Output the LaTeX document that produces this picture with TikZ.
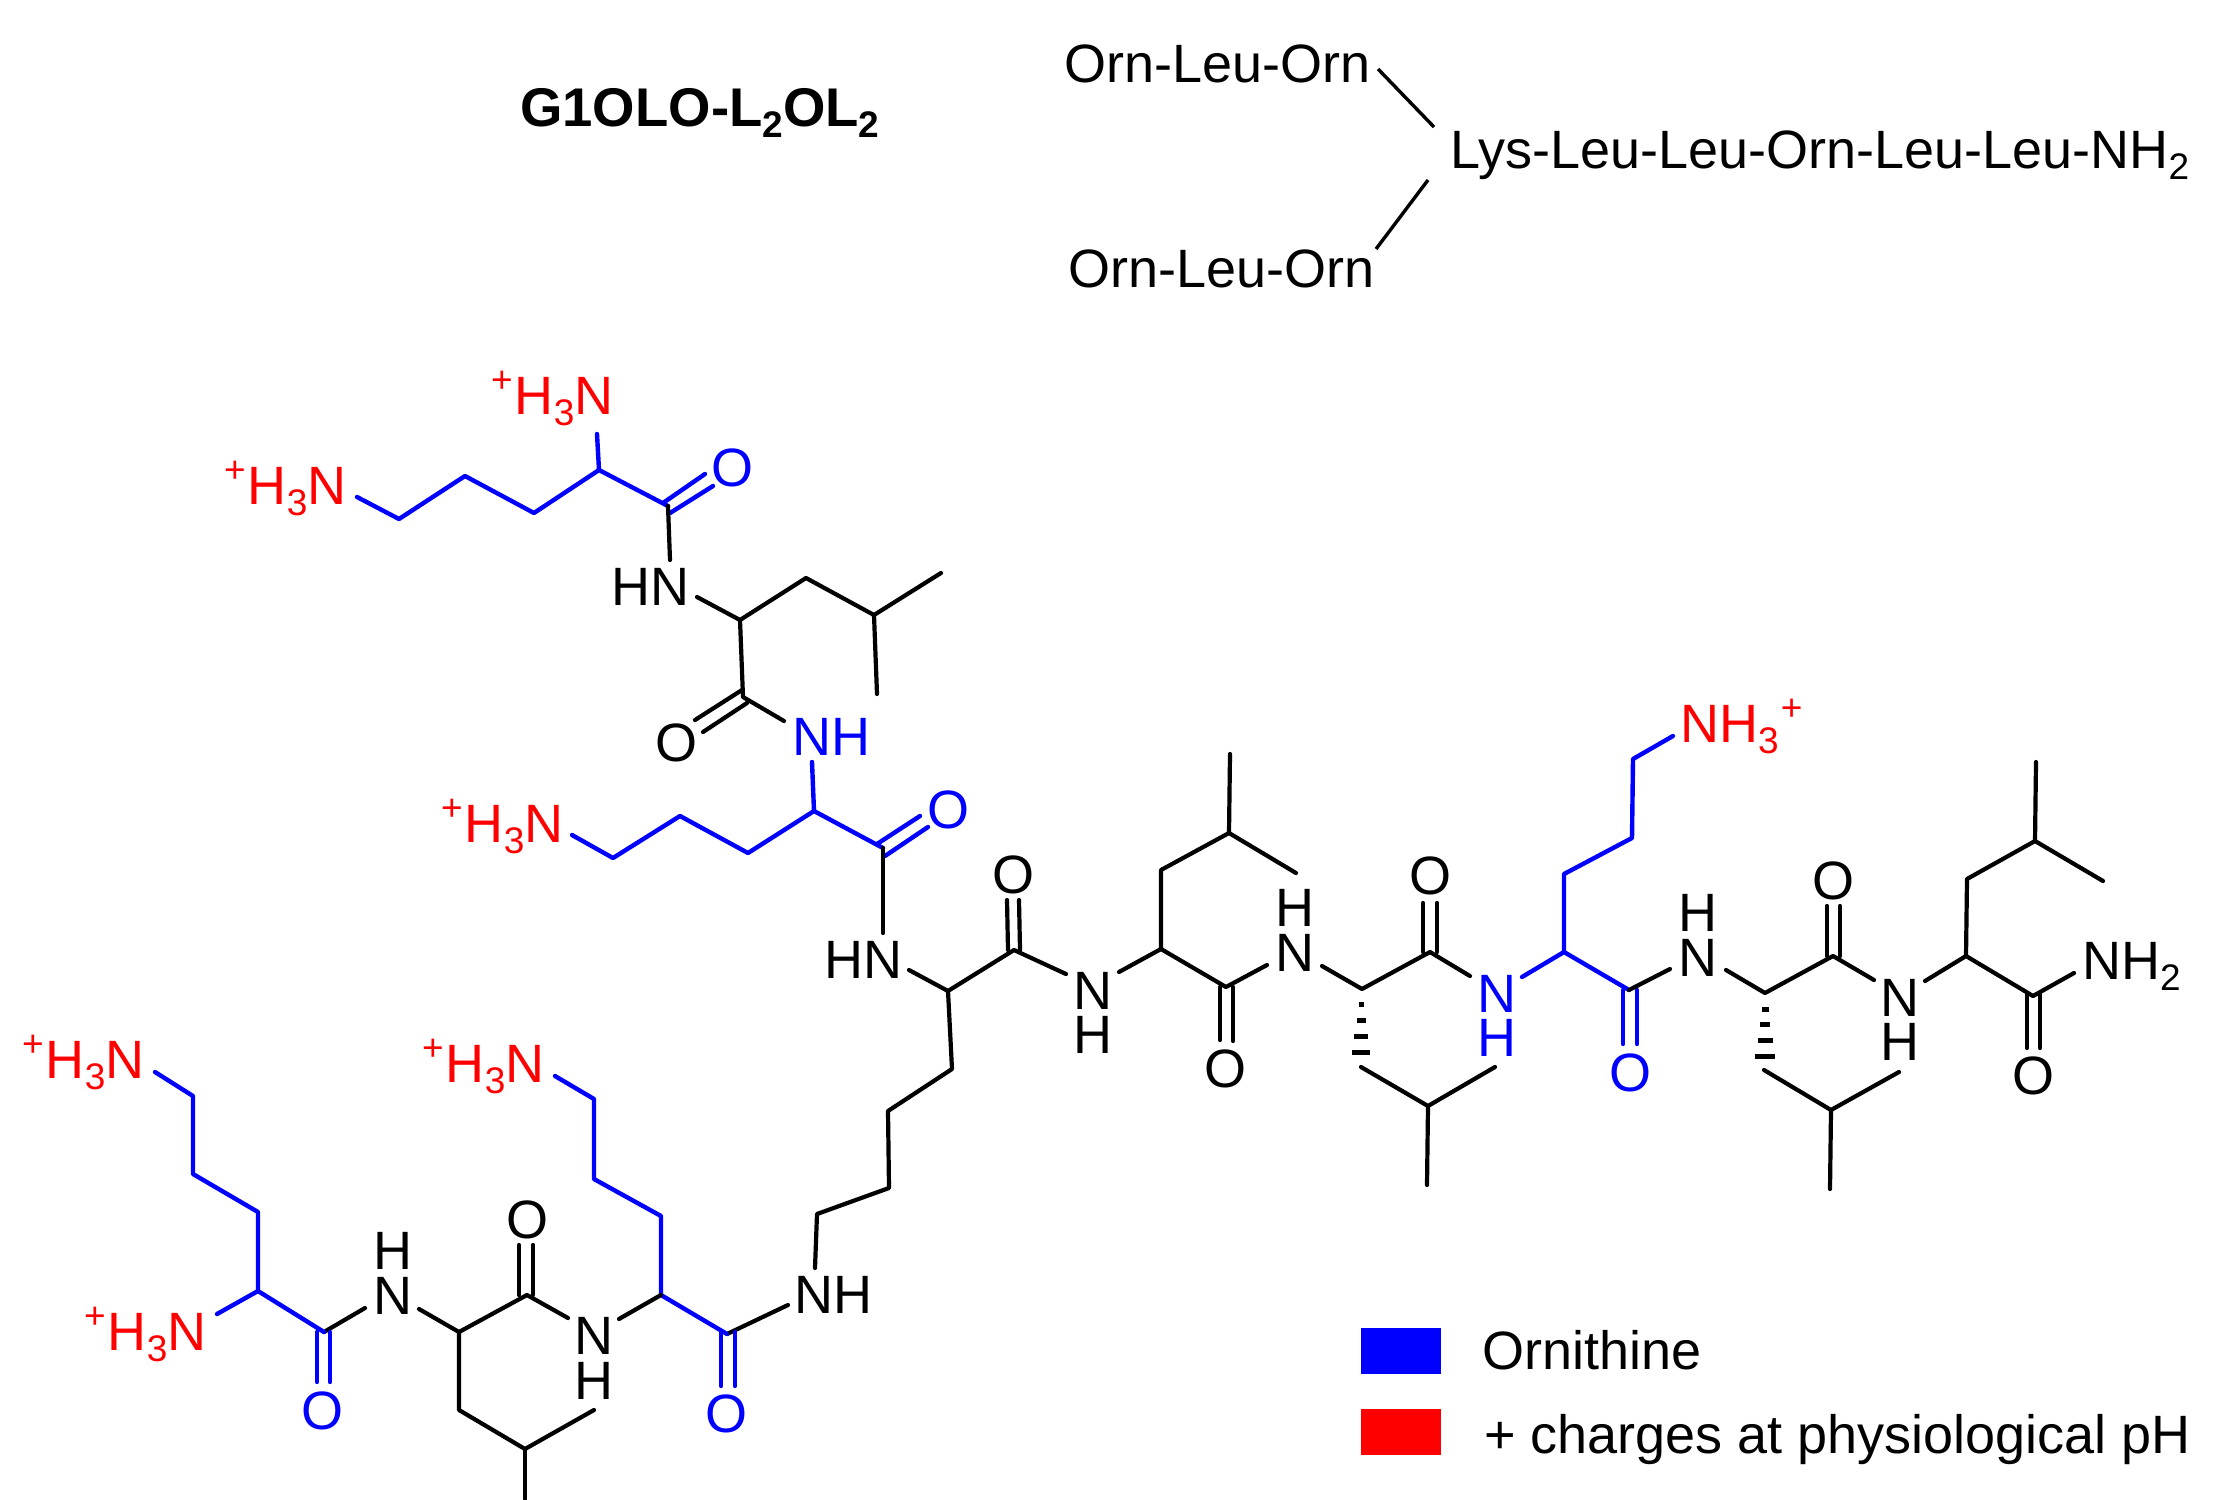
\documentclass[tikz,border=0pt]{standalone}
\usepackage{fontspec}
\setmainfont{Liberation Sans}
\definecolor{orn}{RGB}{0,0,255}
\definecolor{chg}{RGB}{255,0,0}
\newcommand\fs{\fontsize{54}{60}\selectfont}
\newcommand\subd[1]{\raisebox{-11pt}{\fontsize{37}{37}\selectfont #1}}
\newcommand\supp{\raisebox{22pt}{\fontsize{37}{37}\selectfont +}}
\newcommand\pH{\supp\kern2pt H\subd{3}N}
\newcommand\vt[3]{\coordinate (#1) at (#2,#3);}
\tikzset{
 lbl/.style={anchor=base west,inner sep=0pt,font=\fs,text=black},
 atm/.style={anchor=base,inner sep=0pt,font=\fs,text=black},
 bk/.style={draw=black,line width=4.2pt,line cap=round,line join=round},
 bl/.style={draw=orn,line width=4.4pt,line cap=round,line join=round},
 thin bond/.style={draw=black,line width=3.4pt},
 hashmark/.style={fill=black,inner sep=0pt,minimum height=5pt},
 swatch/.style={inner sep=0pt,minimum width=80pt,minimum height=46pt}
}
\begin{document}
\begin{tikzpicture}[x=1pt,y=-1pt]
\useasboundingbox (0,0) rectangle (2240,1499);
% headings
\node[lbl,font=\fontsize{54.5}{60}\selectfont\bfseries] (title) at (520,126) {G1OLO-L\subd{2}OL\subd{2}};
\node[lbl] (ot) at (1064,82) {Orn-Leu-Orn};
\node[lbl] (ob) at (1068,287) {Orn-Leu-Orn};
\node[lbl] (lys) at (1450,168) {Lys-Leu-Leu-Orn-Leu-Leu-NH\subd{2}};
\vt{t1}{1378}{69}\vt{t2}{1434}{127}\vt{t3}{1428}{180}\vt{t4}{1376}{249}
\draw[thin bond] (t1)--(t2);
\draw[thin bond] (t3)--(t4);
% legend
\node[swatch,fill=orn] (sb) at (1401,1351) {};
\node[swatch,fill=chg] (sr) at (1401,1431.5) {};
\node[lbl] (lb) at (1482,1369) {Ornithine};
\node[lbl] (lr) at (1484,1453) {+ charges at physiological pH};
% labels
\node[lbl,text=chg] (n1) at (491,414.5) {\pH};
\node[lbl,text=chg] (n2) at (224,504) {\pH};
\node[lbl,text=chg] (n3) at (441,842) {\pH};
\node[lbl,text=chg] (n4) at (22,1078) {\pH};
\node[lbl,text=chg] (n5) at (422,1082) {\pH};
\node[lbl,text=chg] (n6) at (84,1350) {\pH};
\node[lbl,text=chg] (n7) at (1680,742) {NH\subd{3}\kern2pt\supp};
\node[lbl] (hn1) at (611,605) {HN};
\node[lbl,text=orn] (hn2) at (792,755) {NH};
\node[lbl] (hn3) at (824,978) {HN};
\node[lbl] (hn4) at (794,1313) {NH};
\node[lbl] (nh2) at (2082,979) {NH\subd{2}};
\foreach \nm/\x/\yn/\yh/\c in {s1/1093/1009/1053/black,s2/1295/971/926/black,s3/1497/1012/1056/orn,s4/1698/976/931/black,s5/1899.5/1016/1060/black,s6/593.5/1354/1399/black,s7/392.5/1314/1269/black}{
 \node[atm,text=\c] (\nm n) at (\x,\yn) {N};
 \node[atm,text=\c] (\nm h) at (\x,\yh) {H};
}
\foreach \nm/\x/\y/\c in {o1/732/486/orn,o2/676/761/black,o3/948/828/orn,o4/1013/893/black,o5/1225.5/1087/black,o6/1430/894/black,o7/1630/1091/orn,o8/1833/899/black,o9/2033/1094/black,o10/527/1238/black,o11/726/1432/orn,o12/322/1429/orn}{
 \node[atm,text=\c] (\nm) at (\x,\y) {O};
}
% upper branch, first ornithine
\vt{a1}{357}{497}\vt{a2}{399}{519}\vt{a3}{465}{476}\vt{a4}{534}{513}\vt{a5}{599}{470}\vt{a6}{668}{506}\vt{a7}{597}{434}
\vt{a8}{663}{503}\vt{a9}{705}{474}\vt{a10}{670}{513}\vt{a11}{713}{486}
\draw[bl] (a1)--(a2)--(a3)--(a4)--(a5)--(a6);
\draw[bl] (a7)--(a5);
\draw[bl] (a8)--(a9);
\draw[bl] (a10)--(a11);
% upper branch, leucine
\vt{b1}{670}{560}\vt{b2}{697}{597}\vt{b3}{740}{620}\vt{b4}{806}{578}\vt{b5}{874}{615}\vt{b6}{941}{573}\vt{b7}{877}{694}\vt{b8}{743}{697}
\vt{b9}{742}{690}\vt{b10}{695}{720}\vt{b11}{747}{703}\vt{b12}{703}{732}\vt{b13}{784}{721}
\draw[bk] (a6)--(b1);
\draw[bk] (b2)--(b3)--(b4)--(b5)--(b6);
\draw[bk] (b5)--(b7);
\draw[bk] (b3)--(b8)--(b13);
\draw[bk] (b9)--(b10);
\draw[bk] (b11)--(b12);
% upper branch, second ornithine
\vt{c1}{812}{762}\vt{c2}{814}{811}\vt{c3}{748}{853}\vt{c4}{680}{816}\vt{c5}{613}{858}\vt{c6}{572}{835}\vt{c7}{883}{848}
\vt{c8}{877}{844}\vt{c9}{920}{816}\vt{c10}{885}{856}\vt{c11}{928}{827}
\draw[bl] (c1)--(c2)--(c3)--(c4)--(c5)--(c6);
\draw[bl] (c2)--(c7);
\draw[bl] (c8)--(c9);
\draw[bl] (c10)--(c11);
% lysine and main chain
\vt{d1}{883}{933}\vt{d2}{909}{970}\vt{d3}{948}{991}\vt{d4}{1014}{950}\vt{d5}{1066}{974}
\vt{d6}{1008}{950}\vt{d7}{1007}{900}\vt{d8}{1020}{950}\vt{d9}{1019}{900}
\vt{d10}{952}{1069}\vt{d11}{888}{1111}\vt{d12}{889}{1188}\vt{d13}{817}{1214}\vt{d14}{815}{1268}
\draw[bk] (c7)--(d1);
\draw[bk] (d2)--(d3)--(d4)--(d5);
\draw[bk] (d6)--(d7);
\draw[bk] (d8)--(d9);
\draw[bk] (d3)--(d10)--(d11)--(d12)--(d13)--(d14);
% leucine 1
\vt{e1}{1119}{972}\vt{e2}{1161}{949}\vt{e3}{1161}{870}\vt{e4}{1229}{833}\vt{e5}{1230}{754}\vt{e6}{1296}{873}\vt{e7}{1226}{987}\vt{e8}{1267}{965}
\vt{e9}{1220}{987}\vt{e10}{1220}{1040}\vt{e11}{1233}{987}\vt{e12}{1233}{1041}
\draw[bk] (e1)--(e2)--(e3)--(e4)--(e5);
\draw[bk] (e4)--(e6);
\draw[bk] (e2)--(e7)--(e8);
\draw[bk] (e9)--(e10);
\draw[bk] (e11)--(e12);
% leucine 2
\vt{f1}{1322}{966}\vt{f2}{1362}{989}\vt{f3}{1430}{952}\vt{f4}{1470}{976}
\vt{f5}{1423}{952}\vt{f6}{1423}{903}\vt{f7}{1437}{952}\vt{f8}{1437}{903}
\vt{f9}{1361}{1067}\vt{f10}{1428}{1106}\vt{f11}{1495}{1067}\vt{f12}{1427}{1185}
\draw[bk] (f1)--(f2)--(f3)--(f4);
\draw[bk] (f5)--(f6);
\draw[bk] (f7)--(f8);
\draw[bk] (f9)--(f10)--(f11);
\draw[bk] (f10)--(f12);
\node[hashmark,minimum width=5pt] (h1) at (1361,1004) {};
\node[hashmark,minimum width=9pt] (h2) at (1361,1020) {};
\node[hashmark,minimum width=14pt] (h3) at (1361,1036) {};
\node[hashmark,minimum width=18pt] (h4) at (1361,1052) {};
% ornithine 3
\vt{g1}{1522}{977}\vt{g2}{1564}{952}\vt{g3}{1564}{874}\vt{g4}{1632}{838}\vt{g5}{1633}{759}\vt{g6}{1673}{736}\vt{g7}{1629}{990}
\vt{g8}{1623}{990}\vt{g9}{1623}{1044}\vt{g10}{1637}{990}\vt{g11}{1637}{1044}
\draw[bl] (g1)--(g2)--(g3)--(g4)--(g5)--(g6);
\draw[bl] (g2)--(g7);
\draw[bl] (g8)--(g9);
\draw[bl] (g10)--(g11);
% leucine 3
\vt{k1}{1670}{969}\vt{k2}{1726}{970}\vt{k3}{1765}{993}\vt{k4}{1833}{956}\vt{k5}{1874}{980}
\vt{k6}{1827}{956}\vt{k7}{1827}{906}\vt{k8}{1840}{956}\vt{k9}{1840}{906}
\vt{k10}{1764}{1070}\vt{k11}{1831}{1110}\vt{k12}{1899}{1072}\vt{k13}{1830}{1189}
\draw[bk] (g7)--(k1);
\draw[bk] (k2)--(k3)--(k4)--(k5);
\draw[bk] (k6)--(k7);
\draw[bk] (k8)--(k9);
\draw[bk] (k10)--(k11)--(k12);
\draw[bk] (k11)--(k13);
\node[hashmark,minimum width=7pt] (h5) at (1765,1009) {};
\node[hashmark,minimum width=10pt] (h6) at (1765,1024) {};
\node[hashmark,minimum width=15pt] (h7) at (1765,1040) {};
\node[hashmark,minimum width=20pt] (h8) at (1765,1056) {};
% leucine 4 and amide
\vt{m1}{1925}{981}\vt{m2}{1966}{956}\vt{m3}{1967}{879}\vt{m4}{2035}{841}\vt{m5}{2036}{762}\vt{m6}{2103}{881}\vt{m7}{2033}{996}\vt{m8}{2074}{973}
\vt{m9}{2027}{994}\vt{m10}{2027}{1048}\vt{m11}{2040}{994}\vt{m12}{2040}{1048}
\draw[bk] (m1)--(m2)--(m3)--(m4)--(m5);
\draw[bk] (m4)--(m6);
\draw[bk] (m2)--(m7)--(m8);
\draw[bk] (m9)--(m10);
\draw[bk] (m11)--(m12);
% lower branch, inner ornithine
\vt{p1}{788}{1305}\vt{p2}{727}{1334}\vt{p3}{661}{1295}\vt{p4}{661}{1216}\vt{p5}{594}{1179}\vt{p6}{594}{1099}\vt{p7}{555}{1076}
\vt{p8}{721}{1332}\vt{p9}{721}{1386}\vt{p10}{735}{1332}\vt{p11}{735}{1386}
\draw[bk] (p1)--(p2);
\draw[bl] (p2)--(p3)--(p4)--(p5)--(p6)--(p7);
\draw[bl] (p8)--(p9);
\draw[bl] (p10)--(p11);
% lower branch, leucine
\vt{q1}{619}{1319}\vt{q2}{568}{1318}\vt{q3}{527}{1295}\vt{q4}{459}{1332}\vt{q5}{419}{1309}
\vt{q6}{519}{1295}\vt{q7}{519}{1245}\vt{q8}{533}{1295}\vt{q9}{533}{1245}
\vt{q10}{459}{1410}\vt{q11}{525}{1449}\vt{q12}{594}{1410}\vt{q13}{525}{1499}
\draw[bk] (p3)--(q1);
\draw[bk] (q2)--(q3)--(q4)--(q5);
\draw[bk] (q6)--(q7);
\draw[bk] (q8)--(q9);
\draw[bk] (q4)--(q10)--(q11)--(q12);
\draw[bk] (q11)--(q13);
% lower branch, outer ornithine
\vt{r1}{365}{1308}\vt{r2}{324}{1332}\vt{r3}{258}{1291}\vt{r4}{258}{1212}\vt{r5}{193}{1174}\vt{r6}{193}{1096}\vt{r7}{155}{1072}\vt{r8}{217}{1314}
\vt{r9}{317}{1332}\vt{r10}{317}{1382}\vt{r11}{330}{1332}\vt{r12}{330}{1382}
\draw[bk] (r1)--(r2);
\draw[bl] (r2)--(r3)--(r4)--(r5)--(r6)--(r7);
\draw[bl] (r3)--(r8);
\draw[bl] (r9)--(r10);
\draw[bl] (r11)--(r12);
\end{tikzpicture}
\end{document}
